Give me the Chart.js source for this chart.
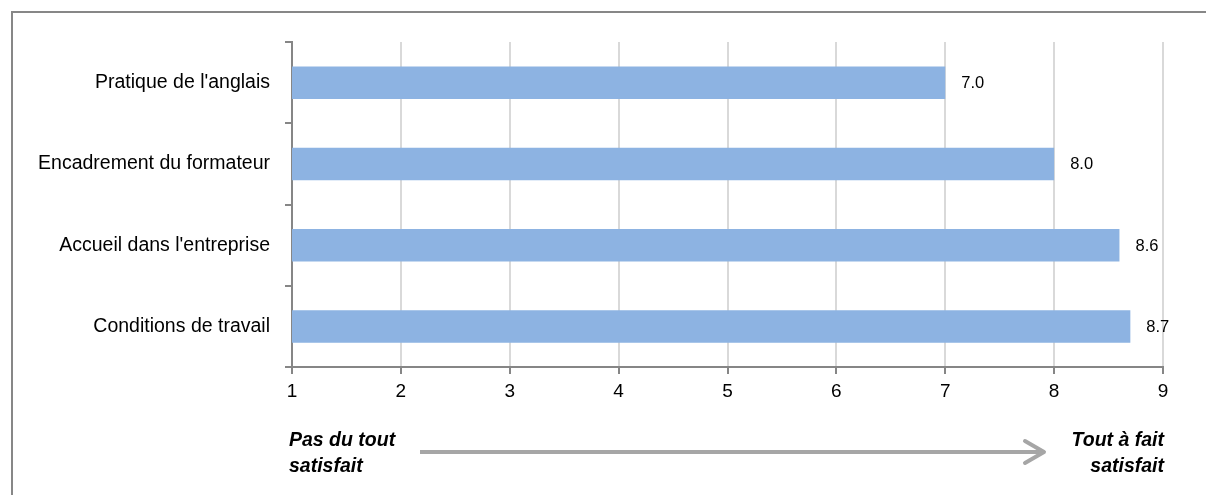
<!DOCTYPE html>
<html>
<head>
<meta charset="utf-8">
<script src="https://cdn.jsdelivr.net/npm/chart.js@4/dist/chart.umd.min.js"></script>
<style>
  html, body { margin: 0; padding: 0; background: #fff; }
  #wrap { position: relative; width: 1206px; height: 495px; }
</style>
</head>
<body>
<div id="wrap"><canvas id="satisfactionChart"></canvas></div>
<script>
const categories = ["Pratique de l'anglais", "Encadrement du formateur", "Accueil dans l'entreprise", "Conditions de travail"];
const scores = [7.0, 8.0, 8.6, 8.7];
const scaleTicks = [1, 2, 3, 4, 5, 6, 7, 8, 9];
const lowLabel = ['Pas du tout', 'satisfait'];
const highLabel = ['Tout à fait', 'satisfait'];

const FONT = "'Liberation Sans', Arial, sans-serif";

// frame + bottom arrow legend
const decorPlugin = {
    id: 'decor',
    beforeDraw(chart) {
        const ctx = chart.ctx;
        ctx.save();
        ctx.strokeStyle = '#878787';
        ctx.lineWidth = 2;
        ctx.beginPath();
        ctx.moveTo(12, 495);
        ctx.lineTo(12, 12);
        ctx.lineTo(1206, 12);
        ctx.stroke();
        ctx.restore();
    },
    afterDraw(chart) {
        const ctx = chart.ctx;
        const area = chart.chartArea;
        ctx.save();
        ctx.fillStyle = '#000';
        ctx.font = `italic bold 19.5px ${FONT}`;
        ctx.textBaseline = 'middle';
        ctx.textAlign = 'left';
        ctx.fillText(lowLabel[0], area.left - 3, 441);
        ctx.fillText(lowLabel[1], area.left - 3, 467);
        ctx.textAlign = 'right';
        ctx.fillText(highLabel[0], area.right + 1, 441);
        ctx.fillText(highLabel[1], area.right + 1, 467);

        ctx.strokeStyle = '#a6a6a6';
        ctx.lineWidth = 4;
        ctx.beginPath();
        ctx.moveTo(420, 452);
        ctx.lineTo(1042, 452);
        ctx.stroke();
        ctx.lineCap = 'round';
        ctx.lineJoin = 'round';
        ctx.beginPath();
        ctx.moveTo(1025, 441);
        ctx.lineTo(1044, 452);
        ctx.lineTo(1025, 463);
        ctx.stroke();
        ctx.restore();
    }
};

const valueLabels = {
    id: 'valueLabels',
    afterDatasetsDraw(chart) {
        const ctx = chart.ctx;
        ctx.save();
        ctx.fillStyle = '#000';
        ctx.font = `16.5px ${FONT}`;
        ctx.textAlign = 'left';
        ctx.textBaseline = 'middle';
        chart.getDatasetMeta(0).data.forEach((bar, i) => {
            ctx.fillText(scores[i].toFixed(1), bar.x + 16, bar.y + 1);
        });
        ctx.restore();
    }
};

new Chart(document.getElementById('satisfactionChart'), {
    type: 'bar',
    data: {
        labels: categories,
        datasets: [{
            data: scores,
            backgroundColor: '#8db3e2',
            borderWidth: 0,
            barPercentage: 0.4,
            categoryPercentage: 1
        }]
    },
    options: {
        indexAxis: 'y',
        responsive: true,
        maintainAspectRatio: false,
        animation: false,
        layout: { padding: { top: 42, right: 43, left: 0, bottom: 0 } },
        plugins: {
            legend: { display: false },
            tooltip: { enabled: false }
        },
        scales: {
            x: {
                type: 'linear',
                min: 1,
                max: 9,
                afterBuildTicks: (scale) => { scale.ticks = scaleTicks.map(v => ({ value: v })); },
                afterFit: (scale) => { scale.height = 128; },
                grid: {
                    color: '#d9d9d9',
                    lineWidth: 2,
                    tickColor: '#868686',
                    tickLength: 7
                },
                border: { color: '#868686', width: 2 },
                ticks: {
                    color: '#000',
                    font: { family: FONT, size: 19 },
                    padding: 6
                }
            },
            y: {
                afterFit: (scale) => { scale.width = 292; },
                grid: {
                    offset: true,
                    drawOnChartArea: false,
                    tickColor: '#868686',
                    tickLength: 7,
                    lineWidth: 2
                },
                border: { color: '#868686', width: 2 },
                ticks: {
                    color: '#000',
                    font: { family: FONT, size: 19.5 },
                    padding: 15
                }
            }
        }
    },
    plugins: [decorPlugin, valueLabels]
});
</script>
</body>
</html>
